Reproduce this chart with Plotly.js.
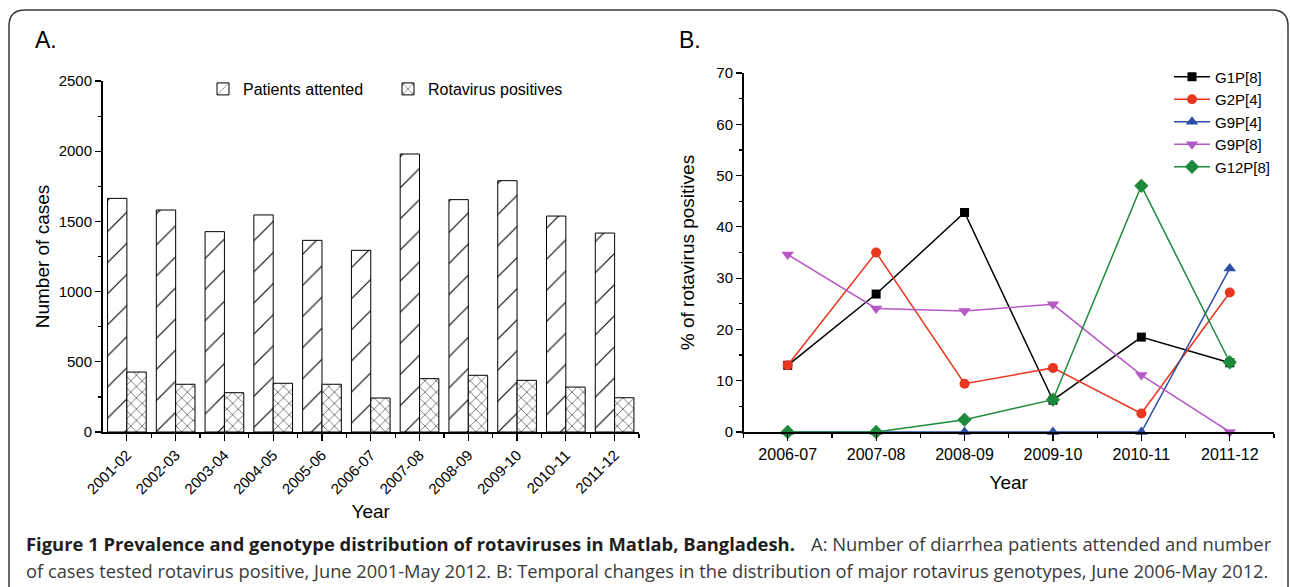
<!DOCTYPE html>
<html><head><meta charset="utf-8">
<script src="https://cdn.plot.ly/plotly-3.0.1.min.js"></script>
<style>html,body{margin:0;padding:0;background:#fff;} #chart{width:1290px;height:587px;}</style>
</head><body><div id="chart"></div>
<script>
// ---- Panel A data ----
const seasonsA = ['2001-02','2002-03','2003-04','2004-05','2005-06','2006-07','2007-08','2008-09','2009-10','2010-11','2011-12'];
const patientsAttended = [1664, 1581, 1427, 1546, 1365, 1294, 1980, 1655, 1790, 1538, 1417];
const rotavirusPositives = [427, 340, 280, 347, 340, 242, 380, 404, 368, 320, 244];
// ---- Panel B data (% of rotavirus positives) ----
const seasonsB = ['2006-07','2007-08','2008-09','2009-10','2010-11','2011-12'];
const g1p8  = [13.0, 26.9, 42.8, 6.2, 18.5, 13.5];
const g2p4  = [13.0, 35.0, 9.4, 12.5, 3.6, 27.2];
const g9p4  = [0, 0, 0, 0, 0, 31.9];
const g9p8  = [34.6, 24.1, 23.6, 24.9, 11.1, 0];
const g12p8 = [0, 0, 2.4, 6.3, 48.0, 13.6];

const W = 1290, H = 587;
const px = v => v / W;
const py = v => 1 - v / H;
const idxA = seasonsA.map((_, i) => i);
const idxB = seasonsB.map((_, i) => i);
const FONT = 'Liberation Sans, Arial, sans-serif';
const CAP = 'Open Sans, Noto Sans, sans-serif';

const traces = [
  {type:'bar', x: idxA, y: patientsAttended, name:'Patients attented', xaxis:'x', yaxis:'y', legend:'legend',
   marker:{color:'#fff', line:{color:'#000', width:1}, pattern:{shape:'/', fgcolor:'#000', bgcolor:'#fff', size:22, solidity:0.05}},
   hoverinfo:'skip'},
  {type:'bar', x: idxA, y: rotavirusPositives, name:'Rotavirus positives', xaxis:'x', yaxis:'y', legend:'legend',
   marker:{color:'#fff', line:{color:'#000', width:1}, pattern:{shape:'x', fgcolor:'#000', bgcolor:'#fff', size:8, solidity:0.12}},
   hoverinfo:'skip'}
];
const series = [
  {name:'G1P[8]', y:g1p8, color:'#000000', symbol:'square', size:9},
  {name:'G2P[4]', y:g2p4, color:'#e8361f', symbol:'circle', size:10},
  {name:'G9P[4]', y:g9p4, color:'#2b4ea6', symbol:'triangle-up', size:11},
  {name:'G9P[8]', y:g9p8, color:'#b659c8', symbol:'triangle-down', size:11},
  {name:'G12P[8]', y:g12p8, color:'#1d8a3b', symbol:'diamond', size:11}
];
series.forEach(s => traces.push({
  type:'scatter', mode:'lines+markers', x: idxB, y: s.y, name: s.name, xaxis:'x2', yaxis:'y2', legend:'legend2',
  line:{color:s.color, width:1.5}, marker:{color:s.color, symbol:s.symbol, size:s.size}, hoverinfo:'skip', cliponaxis:false
}));

const axBase = {showgrid:false, zeroline:false, showline:true, linecolor:'#000', linewidth:1.5,
  ticks:'outside', ticklen:6, tickwidth:1.2, tickcolor:'#000', fixedrange:true,
  tickfont:{family:FONT, size:15, color:'#000'}};

const layout = {
  width: W, height: H, margin:{l:0, r:0, t:0, b:0},
  paper_bgcolor:'#fff', plot_bgcolor:'#fff', showlegend:true,
  barmode:'group', bargap:0.207, bargroupgap:0,
  xaxis: Object.assign({}, axBase, {
    domain:[px(102.5), px(639)], range:[-0.5, 10.5], anchor:'y',
    tickmode:'array', tickvals: idxA, ticktext: seasonsA, tickangle:-45, ticklen:7,
    minor:{tickmode:'array', tickvals: idxA.map(i => i + 0.5), ticklen:4, tickwidth:1.2, tickcolor:'#000', ticks:'outside'},
    title:{text:'Year', font:{family:FONT, size:19, color:'#000'}, standoff:8}
  }),
  yaxis: Object.assign({}, axBase, {
    domain:[py(432), py(81)], range:[0, 2500], anchor:'x', dtick:500,
    minor:{dtick:250, ticklen:3, tickwidth:1.2, tickcolor:'#000', ticks:'outside'},
    title:{text:'Number of cases', font:{family:FONT, size:19, color:'#000'}, standoff:4}
  }),
  xaxis2: Object.assign({}, axBase, {
    domain:[px(743.5), px(1274)], range:[-0.5, 5.5], anchor:'y2',
    tickmode:'array', tickvals: idxB, ticktext: seasonsB, ticklen:7,
    tickfont:{family:FONT, size:16, color:'#000'},
    minor:{tickmode:'array', tickvals: [-0.5].concat(idxB.map(i => i + 0.5)), ticklen:4, tickwidth:1.2, tickcolor:'#000', ticks:'outside'},
    title:{text:'Year', font:{family:FONT, size:19, color:'#000'}, standoff:14}
  }),
  yaxis2: Object.assign({}, axBase, {
    domain:[py(432), py(73)], range:[0, 70], anchor:'x2', dtick:10,
    minor:{dtick:5, ticklen:3, tickwidth:1.2, tickcolor:'#000', ticks:'outside'},
    title:{text:'% of rotavirus positives', font:{family:FONT, size:19, color:'#000'}, standoff:16}
  }),
  legend: {orientation:'h', x: px(203), xanchor:'left', y: py(89), yanchor:'middle',
    font:{family:FONT, size:16, color:'#000'}, bgcolor:'rgba(0,0,0,0)', borderwidth:0,
    entrywidth:140, itemwidth:30, traceorder:'normal'},
  legend2: {x: px(1169), xanchor:'left', y: py(122), yanchor:'middle',
    font:{family:FONT, size:15, color:'#000'}, bgcolor:'rgba(0,0,0,0)', borderwidth:0,
    itemwidth:36, tracegroupgap:0, traceorder:'normal'},
  shapes: [
    {type:'path', xref:'paper', yref:'paper',
     path:`M ${px(9)},${py(587)} L ${px(9)},${py(26)} Q ${px(9)},${py(10)} ${px(25)},${py(10)} L ${px(1272)},${py(10)} Q ${px(1288)},${py(10)} ${px(1288)},${py(26)} L ${px(1288)},${py(587)}`,
     line:{color:'#3a3a3a', width:1.5}, fillcolor:'rgba(0,0,0,0)'}
  ],
  annotations: [
    {text:'A.', xref:'paper', yref:'paper', x:px(33), y:py(40), xanchor:'left', yanchor:'middle', showarrow:false,
     font:{family:FONT, size:23, color:'#000'}},
    {text:'B.', xref:'paper', yref:'paper', x:px(677), y:py(40), xanchor:'left', yanchor:'middle', showarrow:false,
     font:{family:FONT, size:23, color:'#000'}},
    {text:'<b>Figure 1 Prevalence and genotype distribution of rotaviruses in Matlab, Bangladesh.</b>', xref:'paper', yref:'paper',
     x:px(24), y:py(543), xanchor:'left', yanchor:'middle', showarrow:false, font:{family:CAP, size:18.4, color:'#1e1e1e'}},
    {text:'A: Number of diarrhea patients attended and number', xref:'paper', yref:'paper',
     x:px(1274), y:py(543), xanchor:'right', yanchor:'middle', showarrow:false, font:{family:CAP, size:18.4, color:'#3a3a3a'}},
    {text:'of cases tested rotavirus positive, June 2001-May 2012. B: Temporal changes in the distribution of major rotavirus genotypes, June 2006-May 2012.', xref:'paper', yref:'paper',
     x:px(24), y:py(570), xanchor:'left', yanchor:'middle', showarrow:false, font:{family:CAP, size:18.3, color:'#3a3a3a'}}
  ]
};

Plotly.newPlot('chart', traces, layout, {displayModeBar:false, staticPlot:true});
</script>
</body></html>
